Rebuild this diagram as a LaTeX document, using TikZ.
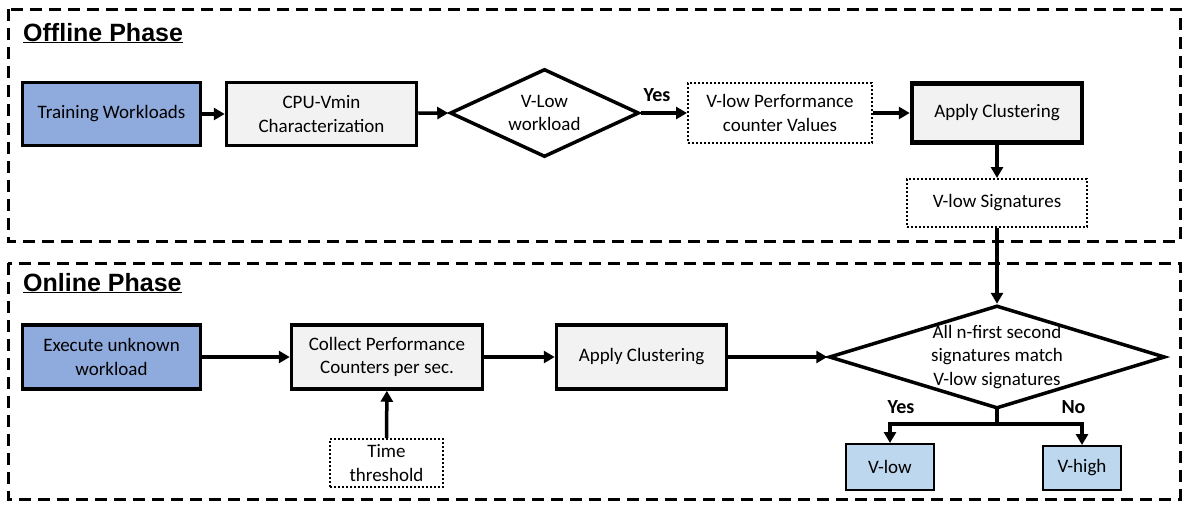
\documentclass[tikz,border=0pt]{standalone}
\usepackage{fontspec}
\setmainfont{Carlito}
\newfontfamily\headfont{Liberation Sans}
\usetikzlibrary{shapes.geometric,arrows.meta}
\definecolor{stepblue}{HTML}{8FAADC}
\definecolor{outblue}{HTML}{BDD7EE}
\definecolor{boxgray}{HTML}{F2F2F2}

\begin{document}
\begin{tikzpicture}[x=1pt,y=-1pt,
  every node/.style={font=\fontsize{19}{23.5}\selectfont, align=center, inner sep=0pt},
  phasebox/.style={draw, line width=3pt, dash pattern=on 12pt off 7pt},
  procbox/.style={draw, rectangle, line width=3.5pt, fill=boxgray},
  startbox/.style={procbox, fill=stepblue},
  databox/.style={draw, rectangle, line width=2pt, dash pattern=on 2pt off 2pt},
  resultbox/.style={draw, rectangle, line width=2pt, fill=outblue},
  decision/.style={draw, diamond, line width=3.5pt},
  arr/.style={line width=3.5pt, -{Triangle[length=11pt,width=12pt]}},
  phasetitle/.style={font=\headfont\bfseries\fontsize{25}{30}\selectfont, anchor=base west},
  branchlabel/.style={font=\bfseries\fontsize{20}{24}\selectfont}
]
\useasboundingbox (0,0) rectangle (1189,504);

% phase frames
\draw[phasebox] (8,9) rectangle (1180,241);
\draw[phasebox] (8,263) rectangle (1180,499);
\node[phasetitle] (offtitle) at (23,41) {\underline{Offline Phase}};
\node[phasetitle] (ontitle) at (23,291) {\underline{Online Phase}};

% offline phase
\node[startbox, minimum width=178pt, minimum height=63pt] (train) at (111.5,114) {Training Workloads};
\node[procbox, minimum width=190pt, minimum height=63pt] (cpu) at (321.5,114) {CPU-Vmin\\Characterization};
\node[decision, aspect=2.14, minimum width=189pt, minimum height=88pt] (d1) at (544.5,113) {V-Low\\workload};
\node[databox, minimum width=184pt, minimum height=60pt] (vperf) at (780,113) {V-low Performance\\counter Values};
\node[procbox, line width=4.5pt, minimum width=170pt, minimum height=59pt] (apply1) at (997,113) {Apply Clustering};
\node[databox, minimum width=180pt, minimum height=48pt] (sig) at (997,203) {V-low Signatures};
\node[branchlabel] (yes1) at (657,95) {Yes};

\draw[arr] (train) -- (cpu);
\draw[arr] (cpu) -- (d1.west);
\draw[arr] (d1.east) -- (vperf);
\draw[arr] (vperf) -- (apply1);
\draw[arr] (apply1) -- (sig);

% online phase
\node[startbox, minimum width=178pt, minimum height=64pt] (exec) at (111.5,357) {Execute unknown\\workload};
\node[procbox, minimum width=191pt, minimum height=64pt] (collect) at (387,357) {Collect Performance\\Counters per sec.};
\node[procbox, minimum width=170pt, minimum height=64pt] (apply2) at (641.5,357) {Apply Clustering};
\node[databox, minimum width=113pt, minimum height=48pt] (time) at (386.5,463) {Time\\threshold};
\node[decision, aspect=3.26, minimum width=336pt, minimum height=103pt,
      label={center:All n-first second\\signatures match\\V-low signatures}] (d2) at (997,357) {};
\node[resultbox, minimum width=88pt, minimum height=46pt] (vlow) at (890,467) {V-low};
\node[resultbox, minimum width=78pt, minimum height=44pt] (vhigh) at (1082,468) {V-high};
\node[branchlabel] (yes2) at (901,407) {Yes};
\node[branchlabel] (no2) at (1073.5,407) {No};

\draw[arr] (sig) -- (d2.north);
\draw[arr] (exec) -- (collect);
\draw[arr] (collect) -- (apply2);
\draw[arr] (time) -- (collect);
\draw[arr] (apply2.east) -- (d2.west);

\coordinate (fork) at (997,424);
\draw[line width=3.5pt, line cap=rect] (d2.south) -- (fork);
\draw[arr] (fork) -| (vlow.north);
\draw[arr] (fork) -| (vhigh.north);
\end{tikzpicture}
\end{document}
